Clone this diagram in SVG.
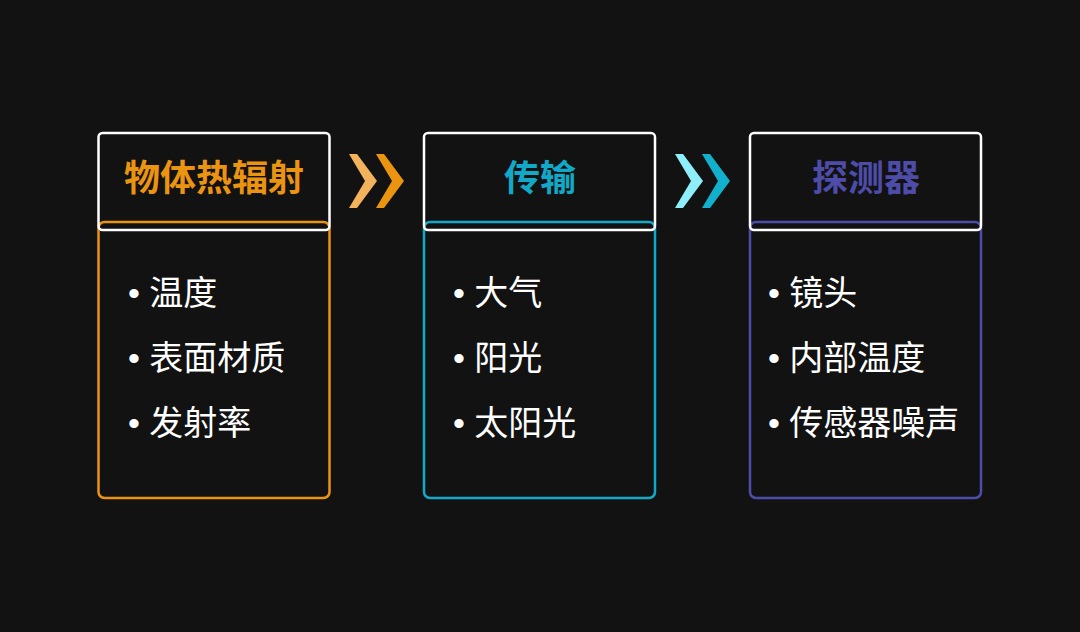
<svg xmlns="http://www.w3.org/2000/svg" width="1080" height="632" viewBox="0 0 1080 632">
<style>
.head{fill:none;stroke:#ffffff;stroke-width:2.5}
.body{fill:#121212;stroke-width:2.5}
.title{font-family:"Noto Sans CJK SC","Noto Sans",sans-serif;font-weight:700;font-size:36px;text-anchor:middle}
.item{font-family:"Liberation Sans","Noto Sans CJK SC",sans-serif;font-size:34px;fill:#ffffff}
</style>
<rect width="1080" height="632" fill="#121212"/>
<g id="connectors">
<polygon points="349,154 357,154 377,181 357,208 349,208 365,181" fill="#f3b25c"/>
<polygon points="376,154 384,154 404,181 384,208 376,208 392,181" fill="#ea9410"/>
<polygon points="675,154 683,154 703,181 683,208 675,208 691,181" fill="#8eeefa"/>
<polygon points="702,154 710,154 730,181 710,208 702,208 718,181" fill="#12b0cc"/>
</g>
<g id="node1">
<rect class="body" x="98.5" y="222" width="231" height="276" rx="6" stroke="#ea9410"/>
<rect class="head" x="98.5" y="133" width="231" height="97" rx="4"/>
<text class="title" x="214" y="191" fill="#ea9410">物体热辐射</text>
<text class="item" x="128" y="305">• 温度</text>
<text class="item" x="128" y="370">• 表面材质</text>
<text class="item" x="128" y="435">• 发射率</text>
</g>
<g id="node2">
<rect class="body" x="424" y="222" width="231" height="276" rx="6" stroke="#12a8c8"/>
<rect class="head" x="424" y="133" width="231" height="97" rx="4"/>
<text class="title" x="540" y="191" fill="#12a8c8">传输</text>
<text class="item" x="453" y="305">• 大气</text>
<text class="item" x="453" y="370">• 阳光</text>
<text class="item" x="453" y="435">• 太阳光</text>
</g>
<g id="node3">
<rect class="body" x="750" y="222" width="231" height="276" rx="6" stroke="#4d4ca8"/>
<rect class="head" x="750" y="133" width="231" height="97" rx="4"/>
<text class="title" x="866" y="191" fill="#4d4ca8">探测器</text>
<text class="item" x="768" y="305">• 镜头</text>
<text class="item" x="768" y="370">• 内部温度</text>
<text class="item" x="768" y="435">• 传感器噪声</text>
</g>
</svg>
